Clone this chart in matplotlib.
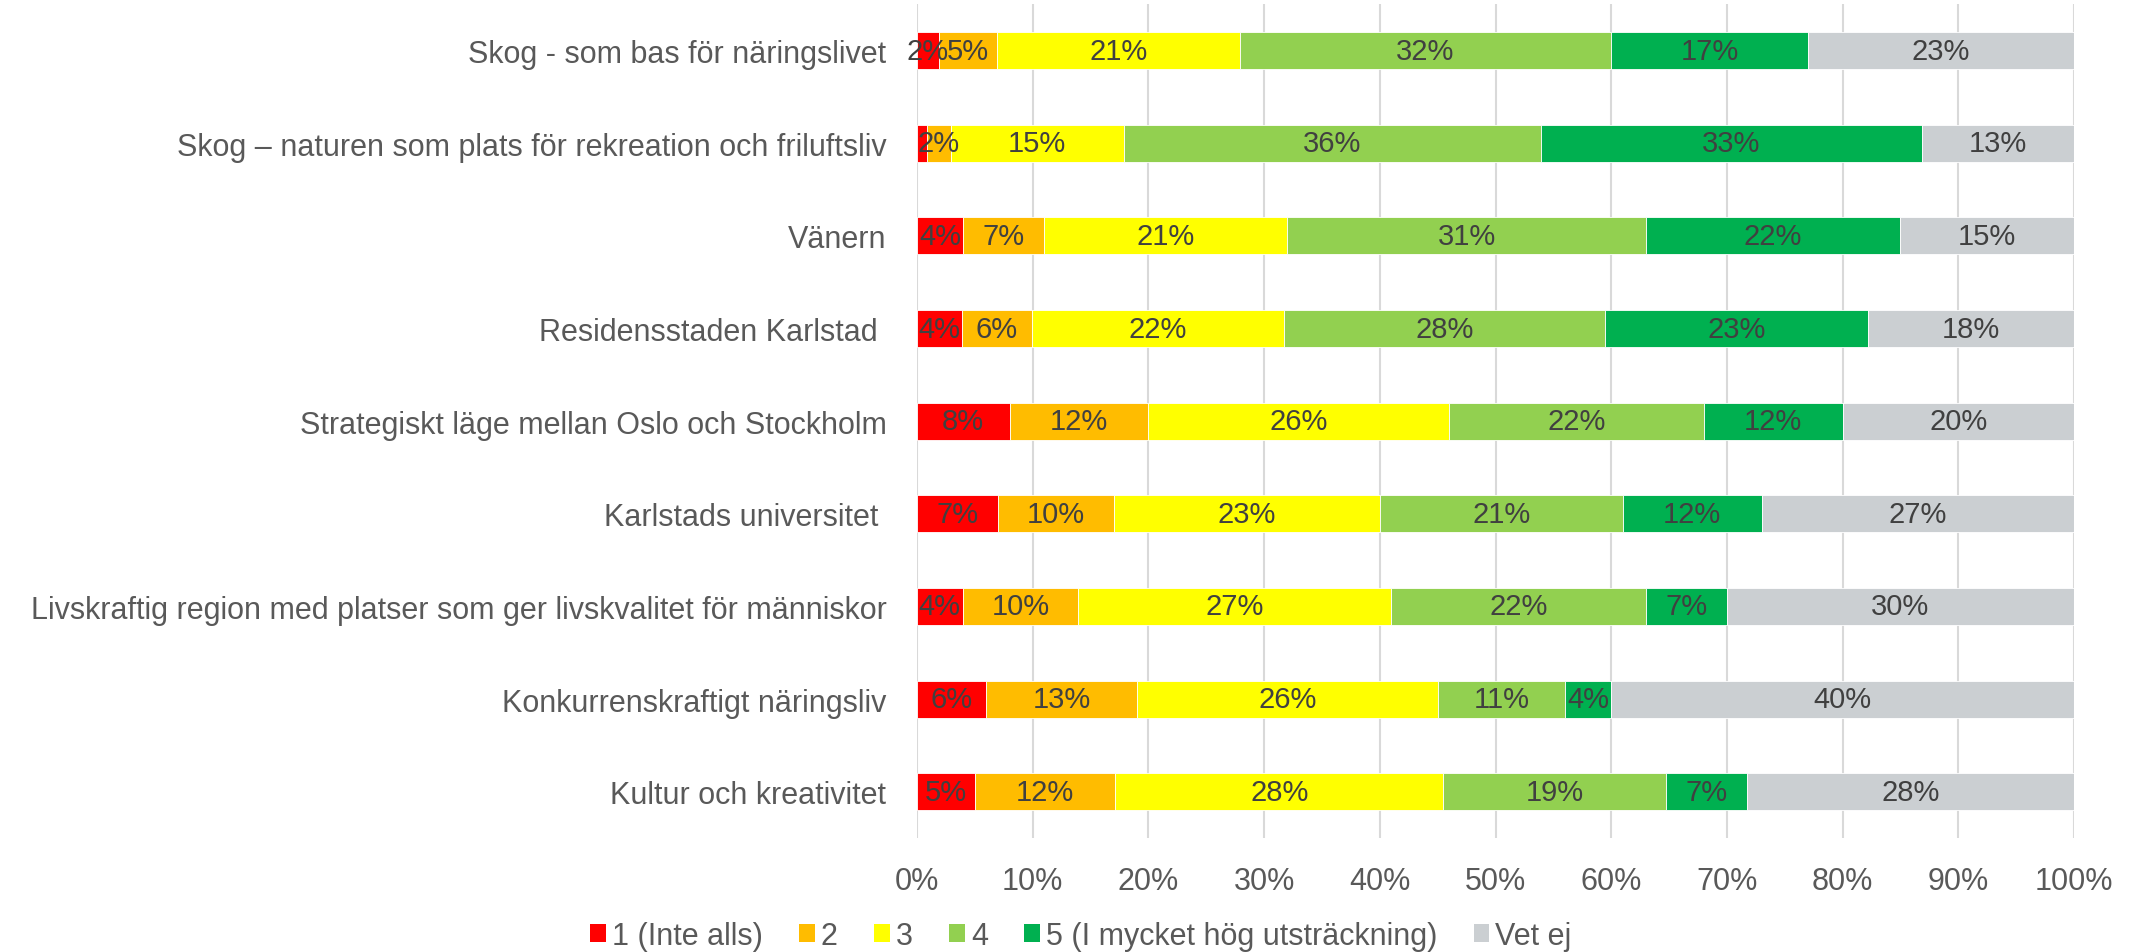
import numpy as np
import matplotlib
matplotlib.use("Agg")
import matplotlib.pyplot as plt
from matplotlib.patches import Patch

plt.rcParams['font.family'] = ['Liberation Sans', 'DejaVu Sans']

# categories, top to bottom
categories = [
    "Skog - som bas för näringslivet",
    "Skog \u2013 naturen som plats för rekreation och friluftsliv",
    "Vänern",
    "Residensstaden Karlstad ",
    "Strategiskt läge mellan Oslo och Stockholm",
    "Karlstads universitet ",
    "Livskraftig region med platser som ger livskvalitet för människor",
    "Konkurrenskraftigt näringsliv",
    "Kultur och kreativitet",
]

series_names = ["1 (Inte alls)", "2", "3", "4", "5 (I mycket hög utsträckning)", "Vet ej"]

# shares in percent, one list per answer option (same order as categories)
s1 = [1.9, 0.9, 4.0, 3.9, 8.0, 7.0, 3.95, 6.0, 5.0]
s2 = [5.0, 2.0, 7.0, 6.0, 12.0, 10.0, 10.0, 13.0, 12.15]
s3 = [21.0, 15.0, 21.0, 21.8, 26.0, 23.0, 27.05, 26.0, 28.35]
s4 = [32.1, 36.0, 31.0, 27.8, 22.0, 21.0, 22.0, 11.0, 19.2]
s5 = [17.0, 33.0, 22.0, 22.7, 12.0, 12.0, 7.0, 4.0, 7.0]
vet_ej = [23.0, 13.1, 15.0, 17.8, 20.0, 27.0, 30.0, 40.0, 28.3]

colors = ["#FF0000", "#FFBC00", "#FFFF00", "#92D050", "#00B050", "#CBCFD2"]

data = [s1, s2, s3, s4, s5, vet_ej]

fig = plt.figure(figsize=(21.31, 9.53), dpi=100)
ax = fig.add_axes([917 / 2131, 1 - 839 / 953, (2074 - 917) / 2131, (839 - 5.4) / 953])

y = np.arange(len(categories))
left = np.zeros(len(categories))
for vals, col in zip(data, colors):
    vals = np.array(vals)
    ax.barh(y, vals, left=left, height=0.4, color=col, edgecolor="white",
            linewidth=0.6, zorder=3)
    for yi, (l, v) in enumerate(zip(left, vals)):
        if v < 1:
            continue
        ax.text(l + v / 2, yi, "%d%%" % round(v), ha="center", va="center",
                fontsize=21, color="#404040", zorder=4)
    left = left + vals

ax.set_xlim(0, 100)
ax.set_ylim(len(categories) - 0.5, -0.5)
ax.set_yticks(y)
ax.set_yticklabels(categories, fontsize=22, color="#595959")
ax.set_xticks(np.arange(0, 101, 10))
ax.set_xticklabels(["%d%%" % t for t in range(0, 101, 10)], fontsize=22, color="#595959")
ax.tick_params(axis="y", length=0, pad=22)
ax.tick_params(axis="x", length=0, pad=20)
ax.grid(axis="x", color="#D9D9D9", linewidth=1.5, zorder=0)
for s in ax.spines.values():
    s.set_visible(False)

handles = [Patch(facecolor=c, edgecolor="none") for c in colors]
fig.legend(handles, series_names, loc="center", bbox_to_anchor=(1081 / 2131, 1 - 937 / 953),
           ncol=6, frameon=False, fontsize=22, labelcolor="#595959",
           handlelength=0.5, handleheight=0.5, handletextpad=0.2, columnspacing=1.2)

fig.savefig("out.png", dpi=100)
